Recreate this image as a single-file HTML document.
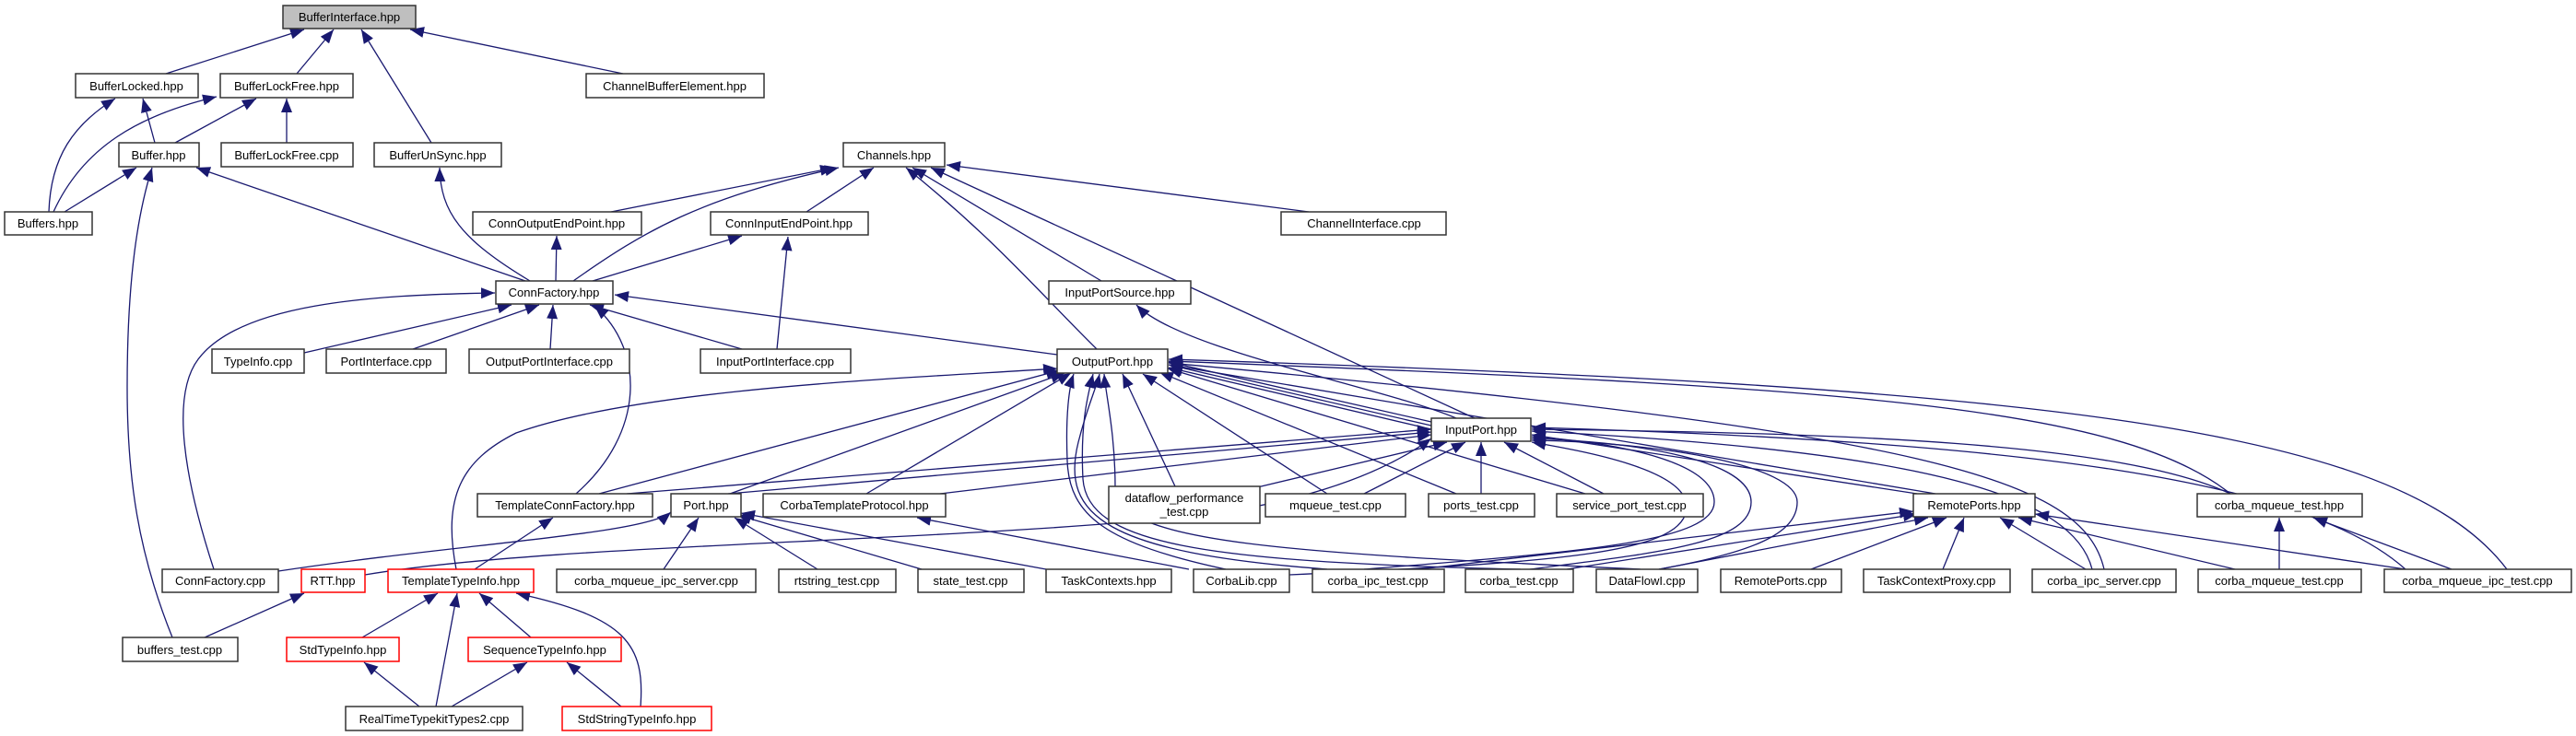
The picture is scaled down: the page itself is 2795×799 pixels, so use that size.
<!DOCTYPE html>
<html><head><meta charset="utf-8"><style>
html,body{margin:0;padding:0;background:#fff;}
svg{display:block;}
text{font-family:"Liberation Sans",sans-serif;font-size:13px;fill:#000;text-anchor:middle;}
.n{fill:#fff;stroke:#333;stroke-width:1.5;}
.r{fill:#fff;stroke:#f00;stroke-width:1.5;}
.g{fill:#bfbfbf;stroke:#333;stroke-width:1.5;}
path.e{fill:none;stroke:#191970;stroke-width:1.3;marker-end:url(#a);}
</style></head><body>
<svg width="2795" height="799" viewBox="0 0 2795 799" xmlns="http://www.w3.org/2000/svg">
<defs><marker id="a" markerUnits="userSpaceOnUse" markerWidth="16" markerHeight="12" refX="15" refY="6" orient="auto"><path d="M0,0 L15,6 L0,12 z" fill="#191970"/></marker></defs>
<g>
<path class="e" d="M180 80 L330 32"/>
<path class="e" d="M322 80 L362 32"/>
<path class="e" d="M468 155 L392 32"/>
<path class="e" d="M676 80 L445 32"/>
<path class="e" d="M53 230 C55 170 80 135 125 107"/>
<path class="e" d="M58 230 C90 160 150 125 235 105"/>
<path class="e" d="M70 230 L148 182"/>
<path class="e" d="M168 155 L155 107"/>
<path class="e" d="M190 155 L278 107"/>
<path class="e" d="M311 155 L311 107"/>
<path class="e" d="M187 692 C150 600 138 520 138 420 C138 300 150 230 165 182"/>
<path class="e" d="M222 692 L330 644"/>
<path class="e" d="M570 305 L213 182"/>
<path class="e" d="M575 305 C500 260 478 230 477 182"/>
<path class="e" d="M603 305 L604 256"/>
<path class="e" d="M643 305 L805 256"/>
<path class="e" d="M622 305 C700 250 760 215 910 182"/>
<path class="e" d="M663 230 L905 182"/>
<path class="e" d="M875 230 L948 182"/>
<path class="e" d="M1420 230 L1027 179"/>
<path class="e" d="M1195 305 L990 182"/>
<path class="e" d="M1190 379 C1130 320 1080 260 983 182"/>
<path class="e" d="M1600 454 L1010 182"/>
<path class="e" d="M843 379 L855 257"/>
<path class="e" d="M805 379 L640 331"/>
<path class="e" d="M330 383 L555 331"/>
<path class="e" d="M448 379 L585 331"/>
<path class="e" d="M597 379 L600 331"/>
<path class="e" d="M232 618 C200 520 185 430 215 390 C260 330 400 320 537 318"/>
<path class="e" d="M625 536 C700 470 700 380 645 332"/>
<path class="e" d="M1147 385 L667 320"/>
<path class="e" d="M1580 454 C1500 420 1280 380 1233 331"/>
<path class="e" d="M1553 458 L1268 393"/>
<path class="e" d="M1553 462 L1268 396"/>
<path class="e" d="M1553 466 L1268 399"/>
<path class="e" d="M650 536 L1150 402"/>
<path class="e" d="M495 618 C480 540 500 500 560 470 C700 420 1000 410 1147 400"/>
<path class="e" d="M792 536 L1155 405"/>
<path class="e" d="M940 536 L1162 405"/>
<path class="e" d="M1275 528 L1218 406"/>
<path class="e" d="M1440 536 L1240 406"/>
<path class="e" d="M1580 536 L1258 404"/>
<path class="e" d="M1720 536 L1267 400"/>
<path class="e" d="M2100 536 L1268 396"/>
<path class="e" d="M2420 536 C2300 440 2000 420 1268 392"/>
<path class="e" d="M2720 618 C2600 460 2200 420 1268 390"/>
<path class="e" d="M2283 618 C2260 520 2100 470 1268 394"/>
<path class="e" d="M1440 618 C1200 600 1150 560 1170 480 C1180 440 1190 420 1193 406"/>
<path class="e" d="M1650 618 C1300 610 1180 590 1175 520 C1172 460 1180 430 1186 406"/>
<path class="e" d="M1780 618 C1400 600 1210 590 1210 530 C1210 470 1200 430 1198 406"/>
<path class="e" d="M1330 618 C1200 590 1160 560 1158 500 C1156 450 1160 420 1165 406"/>
<path class="e" d="M680 536 L1553 466"/>
<path class="e" d="M790 536 L1553 469"/>
<path class="e" d="M1020 536 L1553 472"/>
<path class="e" d="M1360 530 L1570 480"/>
<path class="e" d="M1480 536 L1590 480"/>
<path class="e" d="M1607 536 L1607 480"/>
<path class="e" d="M1740 536 L1632 480"/>
<path class="e" d="M2080 536 L1662 472"/>
<path class="e" d="M2420 536 C2300 480 2000 470 1662 466"/>
<path class="e" d="M2610 618 C2500 520 2200 480 1662 464"/>
<path class="e" d="M2270 618 C2250 540 2100 490 1662 468"/>
<path class="e" d="M1480 618 C1700 600 1860 590 1860 545 C1860 500 1750 480 1662 474"/>
<path class="e" d="M1660 618 C1800 600 1900 590 1900 545 C1900 500 1780 480 1662 476"/>
<path class="e" d="M1800 618 C1900 600 1950 580 1950 545 C1950 505 1800 480 1662 478"/>
<path class="e" d="M1399 624 C1700 610 1830 600 1830 550 C1830 510 1720 490 1662 480"/>
<path class="e" d="M396 624 C600 590 1000 590 1300 560 C1450 540 1520 500 1553 476"/>
<path class="e" d="M302 620 C500 590 700 580 728 556"/>
<path class="e" d="M720 618 L758 562"/>
<path class="e" d="M887 618 L797 562"/>
<path class="e" d="M1000 618 L800 559"/>
<path class="e" d="M1135 618 L804 557"/>
<path class="e" d="M1290 618 L995 562"/>
<path class="e" d="M1540 618 L2076 555"/>
<path class="e" d="M1700 618 L2080 558"/>
<path class="e" d="M1800 618 L2092 562"/>
<path class="e" d="M1965 618 L2112 562"/>
<path class="e" d="M2108 618 L2131 562"/>
<path class="e" d="M2263 618 L2170 562"/>
<path class="e" d="M2425 618 L2190 562"/>
<path class="e" d="M2610 618 L2208 558"/>
<path class="e" d="M2473 618 L2473 562"/>
<path class="e" d="M2660 618 L2510 562"/>
<path class="e" d="M515 618 L600 562"/>
<path class="e" d="M393 692 L475 644"/>
<path class="e" d="M576 692 L520 644"/>
<path class="e" d="M473 767 L496 644"/>
<path class="e" d="M695 767 C700 700 680 670 560 644"/>
<path class="e" d="M455 767 L395 719"/>
<path class="e" d="M490 767 L572 719"/>
<path class="e" d="M674 767 L615 719"/>
</g>
<g>
<rect class="g" x="307" y="6" width="144" height="25"/><text x="379" y="23">BufferInterface.hpp</text>
<rect class="n" x="82" y="80" width="133" height="26"/><text x="148" y="98">BufferLocked.hpp</text>
<rect class="n" x="239" y="80" width="144" height="26"/><text x="311" y="98">BufferLockFree.hpp</text>
<rect class="n" x="636" y="80" width="193" height="26"/><text x="732" y="98">ChannelBufferElement.hpp</text>
<rect class="n" x="129" y="155" width="87" height="26"/><text x="172" y="173">Buffer.hpp</text>
<rect class="n" x="240" y="155" width="143" height="26"/><text x="311" y="173">BufferLockFree.cpp</text>
<rect class="n" x="406" y="155" width="138" height="26"/><text x="475" y="173">BufferUnSync.hpp</text>
<rect class="n" x="915" y="155" width="110" height="26"/><text x="970" y="173">Channels.hpp</text>
<rect class="n" x="5" y="230" width="95" height="25"/><text x="52" y="247">Buffers.hpp</text>
<rect class="n" x="513" y="230" width="183" height="25"/><text x="604" y="247">ConnOutputEndPoint.hpp</text>
<rect class="n" x="771" y="230" width="171" height="25"/><text x="856" y="247">ConnInputEndPoint.hpp</text>
<rect class="n" x="1390" y="230" width="179" height="25"/><text x="1480" y="247">ChannelInterface.cpp</text>
<rect class="n" x="538" y="305" width="127" height="25"/><text x="601" y="322">ConnFactory.hpp</text>
<rect class="n" x="1138" y="305" width="154" height="25"/><text x="1215" y="322">InputPortSource.hpp</text>
<rect class="n" x="230" y="379" width="100" height="26"/><text x="280" y="397">TypeInfo.cpp</text>
<rect class="n" x="354" y="379" width="130" height="26"/><text x="419" y="397">PortInterface.cpp</text>
<rect class="n" x="509" y="379" width="174" height="26"/><text x="596" y="397">OutputPortInterface.cpp</text>
<rect class="n" x="760" y="379" width="163" height="26"/><text x="841" y="397">InputPortInterface.cpp</text>
<rect class="n" x="1147" y="379" width="120" height="26"/><text x="1207" y="397">OutputPort.hpp</text>
<rect class="n" x="1553" y="454" width="108" height="25"/><text x="1607" y="471">InputPort.hpp</text>
<rect class="n" x="518" y="536" width="190" height="25"/><text x="613" y="553">TemplateConnFactory.hpp</text>
<rect class="n" x="728" y="536" width="76" height="25"/><text x="766" y="553">Port.hpp</text>
<rect class="n" x="828" y="536" width="198" height="25"/><text x="927" y="553">CorbaTemplateProtocol.hpp</text>
<rect class="n" x="1203" y="528" width="164" height="40"/><text x="1285" y="545">dataflow_performance</text><text x="1285" y="560">_test.cpp</text>
<rect class="n" x="1373" y="536" width="152" height="25"/><text x="1449" y="553">mqueue_test.cpp</text>
<rect class="n" x="1550" y="536" width="115" height="25"/><text x="1607" y="553">ports_test.cpp</text>
<rect class="n" x="1689" y="536" width="159" height="25"/><text x="1768" y="553">service_port_test.cpp</text>
<rect class="n" x="2076" y="536" width="132" height="25"/><text x="2142" y="553">RemotePorts.hpp</text>
<rect class="n" x="2384" y="536" width="179" height="25"/><text x="2473" y="553">corba_mqueue_test.hpp</text>
<rect class="n" x="176" y="618" width="126" height="25"/><text x="239" y="635">ConnFactory.cpp</text>
<rect class="r" x="327" y="618" width="69" height="25"/><text x="361" y="635">RTT.hpp</text>
<rect class="r" x="421" y="618" width="158" height="25"/><text x="500" y="635">TemplateTypeInfo.hpp</text>
<rect class="n" x="604" y="618" width="216" height="25"/><text x="712" y="635">corba_mqueue_ipc_server.cpp</text>
<rect class="n" x="845" y="618" width="127" height="25"/><text x="908" y="635">rtstring_test.cpp</text>
<rect class="n" x="996" y="618" width="115" height="25"/><text x="1053" y="635">state_test.cpp</text>
<rect class="n" x="1135" y="618" width="136" height="25"/><text x="1203" y="635">TaskContexts.hpp</text>
<rect class="n" x="1295" y="618" width="104" height="25"/><text x="1347" y="635">CorbaLib.cpp</text>
<rect class="n" x="1424" y="618" width="143" height="25"/><text x="1495" y="635">corba_ipc_test.cpp</text>
<rect class="n" x="1590" y="618" width="117" height="25"/><text x="1648" y="635">corba_test.cpp</text>
<rect class="n" x="1732" y="618" width="110" height="25"/><text x="1787" y="635">DataFlowI.cpp</text>
<rect class="n" x="1867" y="618" width="131" height="25"/><text x="1932" y="635">RemotePorts.cpp</text>
<rect class="n" x="2022" y="618" width="159" height="25"/><text x="2101" y="635">TaskContextProxy.cpp</text>
<rect class="n" x="2205" y="618" width="156" height="25"/><text x="2283" y="635">corba_ipc_server.cpp</text>
<rect class="n" x="2385" y="618" width="177" height="25"/><text x="2473" y="635">corba_mqueue_test.cpp</text>
<rect class="n" x="2587" y="618" width="203" height="25"/><text x="2688" y="635">corba_mqueue_ipc_test.cpp</text>
<rect class="n" x="133" y="692" width="125" height="26"/><text x="195" y="710">buffers_test.cpp</text>
<rect class="r" x="311" y="692" width="122" height="26"/><text x="372" y="710">StdTypeInfo.hpp</text>
<rect class="r" x="508" y="692" width="166" height="26"/><text x="591" y="710">SequenceTypeInfo.hpp</text>
<rect class="n" x="375" y="767" width="192" height="26"/><text x="471" y="785">RealTimeTypekitTypes2.cpp</text>
<rect class="r" x="610" y="767" width="162" height="26"/><text x="691" y="785">StdStringTypeInfo.hpp</text>
</g>
</svg>
</body></html>
